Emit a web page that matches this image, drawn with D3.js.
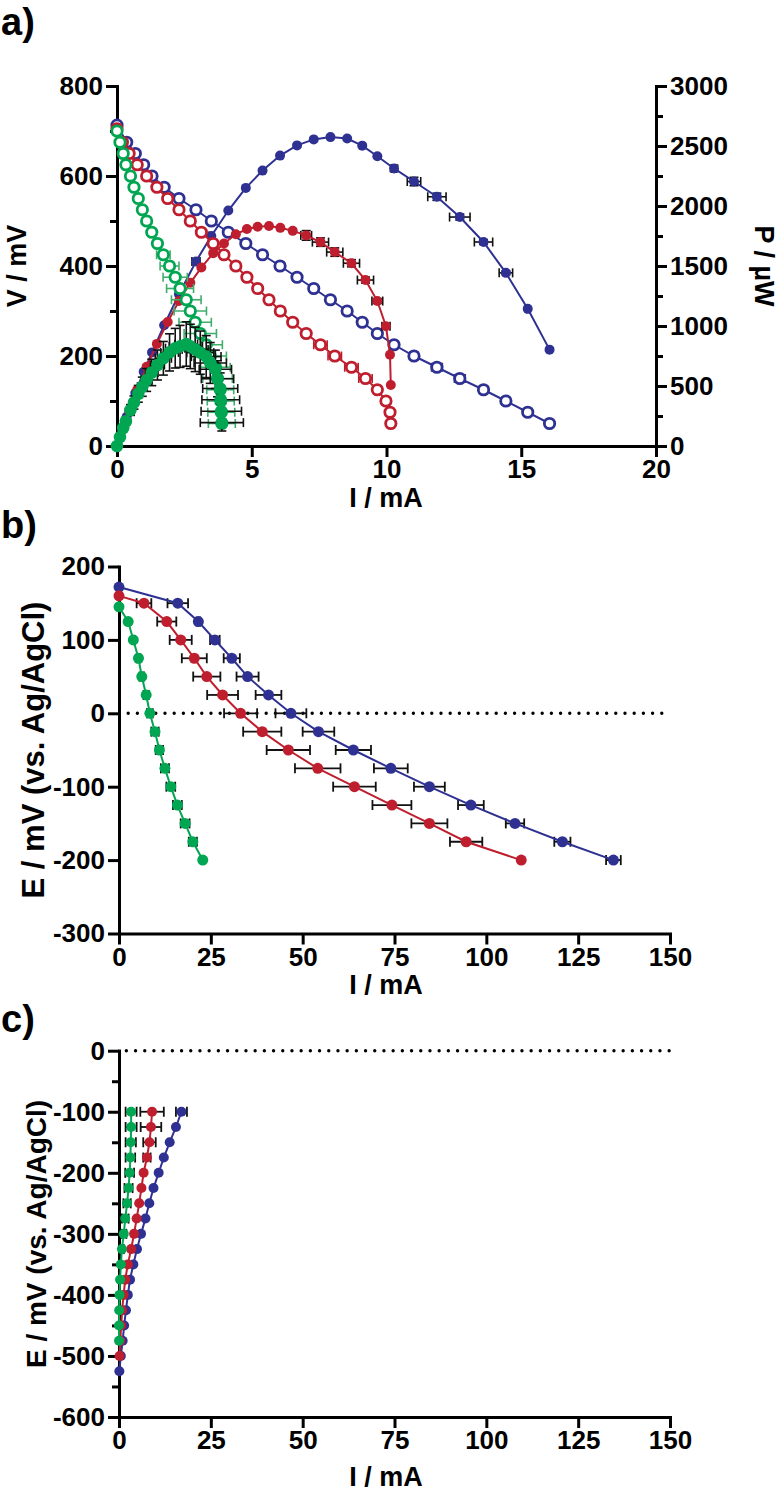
<!DOCTYPE html>
<html><head><meta charset="utf-8">
<script src="https://cdn.jsdelivr.net/npm/d3@7"></script>
<style>
body{margin:0;background:#fff;}
svg text{font-family:"Liberation Sans",Arial,sans-serif;font-weight:bold;fill:#000;}
</style></head><body>
<svg id="chart" width="781" height="1501"></svg>
<script>
// ---------- Panel a: polarisation (V, open) and power (P, filled) ----------
const aBlueI = [0, 0.36, 0.68, 0.99, 1.3, 1.75, 2.3, 2.93, 3.5, 4.13, 4.78, 5.4, 6.05, 6.68, 7.3, 7.92, 8.54, 9.1, 9.66, 10.28, 11.02, 11.87, 12.72, 13.6, 14.43, 15.24, 16.05];
const aBlueV = [713, 675, 650, 625, 600, 575, 550, 525, 500, 475, 450, 425, 400, 375, 350, 325, 300, 275, 250, 225, 200, 175, 150, 125, 100, 75, 50];
const aBlueP = [0, 243, 442, 619, 780, 1006, 1265, 1538, 1750, 1962, 2151, 2295, 2420, 2505, 2555, 2574, 2562, 2503, 2415, 2313, 2204, 2077, 1908, 1700, 1443, 1143, 803];
const aBlueVErr = [0,0,0,0,0,0,0,0,0,0,0,0,0,0,0,0,0,0,0,0.1,0.15,0.2,0.2,0.15,0.1,0,0];
const aBluePXErr = [0,0,0,0,0,0,0,0.15,0.1,0,0,0,0,0,0,0,0,0,0,0.1,0.25,0.34,0.38,0.34,0.25,0.05,0];
const aBluePYErr = [0,0,0,0,0,0,0,0,0,0,0,0,0,0,0,0,0,0,0,25,35,30,25,20,15,0,0];

const aRedI = [0, 0.2, 0.45, 0.75, 1.1, 1.48, 1.88, 2.3, 2.72, 3.13, 3.57, 3.97, 4.41, 4.82, 5.22, 5.64, 6.06, 6.52, 7.02, 7.55, 8.08, 8.7, 9.22, 9.66, 9.98, 10.13, 10.16];
const aRedV = [705, 675, 650, 625, 600, 575, 550, 525, 500, 475, 450, 425, 400, 375, 350, 325, 300, 275, 250, 225, 200, 175, 150, 125, 100, 75, 50];
const aRedP = [0, 135, 293, 469, 660, 851, 1034, 1208, 1360, 1487, 1607, 1687, 1764, 1808, 1827, 1833, 1818, 1793, 1755, 1699, 1616, 1523, 1383, 1208, 998, 760, 508];
const aRedVErr = [0,0,0,0,0,0,0,0,0,0,0,0,0,0,0,0,0,0,0.15,0.25,0.25,0.25,0.25,0,0,0,0];
const aRedPXErr = [0,0,0,0,0,0,0,0,0,0,0,0,0,0,0,0,0,0,0.2,0.3,0.3,0.3,0.3,0.2,0.15,0,0];
const aRedPYErr = [0,0,0,0,0,0,0,0,0,0,0,0,0,0,0,0,0,0,40,35,35,30,25,20,15,0,0];

const aGreenI = [0, 0.11, 0.23, 0.33, 0.5, 0.63, 0.79, 0.94, 1.1, 1.29, 1.5, 1.72, 1.95, 2.16, 2.34, 2.57, 2.72, 2.9, 3.09, 3.31, 3.46, 3.65, 3.73, 3.83, 3.85, 3.87, 3.89];
const aGreenV = [700, 675, 650, 625, 600, 575, 550, 525, 500, 475, 450, 425, 400, 375, 350, 325, 300, 275, 250, 225, 200, 175, 150, 125, 100, 75, 50];
const aGreenP = [0, 74, 150, 206, 300, 362, 435, 494, 550, 613, 675, 731, 780, 815, 830, 850, 830, 805, 778, 745, 692, 639, 560, 479, 385, 290, 195];
const aGreenVErr = [0,0,0,0,0,0,0,0,0.05,0.1,0.15,0.25,0.35,0.45,0.5,0.55,0.6,0.6,0.6,0.6,0.6,0.55,0.55,0.5,0.5,0.5,0.5];
const aGreenPXErr = [0,0.03,0.05,0.08,0.1,0.12,0.15,0.18,0.2,0.23,0.26,0.3,0.33,0.36,0.4,0.42,0.45,0.48,0.5,0.55,0.6,0.6,0.6,0.65,0.7,0.75,0.8];
const aGreenPYErr = [0,10,20,30,45,55,70,80,95,110,125,140,155,165,175,185,185,185,180,175,170,160,150,130,110,90,70];

const aXTicks = [0, 5, 10, 15, 20];
const aVTicks = [0, 200, 400, 600, 800];
const aVMinor = [100, 300, 500, 700];
const aPTicks = [0, 500, 1000, 1500, 2000, 2500, 3000];
const aPMinor = [250, 750, 1250, 1750, 2250, 2750];

// ---------- Panel b: E vs I ----------
const bBlueE = [172, 150, 125, 100, 75, 50, 25, 0, -25, -50, -75, -100, -125, -150, -175, -200];
const bBlueI = [0, 16, 21.6, 26.1, 30.7, 35.0, 40.7, 46.8, 54.3, 63.8, 74.0, 84.5, 95.8, 107.8, 120.7, 134.6];
const bBlueErr = [0, 2.8, 0.5, 1.3, 2.2, 3.0, 3.5, 4.2, 4.3, 4.8, 4.6, 4.2, 3.5, 2.5, 2.2, 2.0];
const bRedE = [160, 150, 125, 100, 75, 50, 25, 0, -25, -50, -75, -100, -125, -150, -175, -200];
const bRedI = [0, 6.8, 13.0, 16.8, 20.5, 23.9, 28.2, 33.1, 39.0, 46.1, 54.1, 64.1, 74.3, 84.5, 94.5, 109.5];
const bRedErr = [0, 2.0, 2.6, 3.0, 3.4, 3.7, 4.2, 4.5, 5.2, 5.9, 6.2, 5.8, 5.3, 4.9, 4.4, 0];
const bGreenE = [145, 125, 100, 75, 50, 25, 0, -25, -50, -75, -100, -125, -150, -175, -200];
const bGreenI = [0, 2.5, 3.9, 5.3, 6.2, 7.4, 8.4, 9.8, 11.0, 12.5, 14.1, 15.9, 18.0, 20.1, 22.8];
const bGreenErr = [0, 0, 0.4, 0.5, 0.6, 0.7, 0.8, 1.0, 1.0, 1.1, 1.2, 1.2, 1.2, 1.1, 0];
const bXTicks = [0, 25, 50, 75, 100, 125, 150];
const bYTicks = [200, 100, 0, -100, -200, -300];

// ---------- Panel c: E vs I (cathodic) ----------
const cBlueE = [-100, -125, -150, -175, -200, -225, -250, -275, -300, -325, -350, -375, -400, -425, -450, -475, -500, -525];
const cBlueI = [17.0, 15.5, 13.8, 12.2, 10.8, 9.4, 8.25, 7.2, 6.0, 4.9, 3.9, 3.0, 2.4, 1.9, 1.4, 1.0, 0.5, 0.1];
const cBlueErr = [1.5, 0, 0, 0, 0, 0, 0, 0, 0, 0, 0, 0, 0, 0, 0, 0, 0, 0];
const cRedE = [-100, -125, -150, -175, -200, -225, -250, -275, -300, -325, -350, -375, -400, -425, -450, -475, -500];
const cRedI = [9.0, 8.7, 8.3, 7.6, 6.7, 6.1, 5.5, 4.8, 4.1, 3.3, 2.4, 1.7, 1.26, 0.85, 0.6, 0.35, 0.15];
const cRedErr = [3.2, 2.8, 1.7, 1.0, 0, 0, 0, 0, 0, 0, 0, 0, 0, 0, 0, 0, 0];
const cGreenE = [-100, -125, -150, -175, -200, -225, -250, -275, -300, -325, -350, -375, -400, -425, -450, -475];
const cGreenI = [3.3, 3.3, 3.2, 3.1, 2.9, 2.6, 2.2, 1.7, 1.3, 0.8, 0.5, 0.3, 0.15, 0.05, 0, 0];
const cGreenErr = [1.5, 1.5, 1.4, 1.3, 1.2, 1.1, 1.0, 0.9, 0.7, 0.5, 0, 0, 0, 0, 0, 0];
const cXTicks = [0, 25, 50, 75, 100, 125, 150];
const cYTicks = [0, -100, -200, -300, -400, -500, -600];
const cYMinor = [-50, -150, -250, -350, -450, -550];

// ---------- styling ----------
const BLUE = "#2E3192", RED = "#BE1E2D", GREEN = "#00A651", GREEN_BAR = "#3FAE6B";
const TICK_FONT = 26, TITLE_FONT = 27, PANEL_FONT = 38;
const svg = d3.select("#chart");

function styleAxis(g) {
  g.select(".domain").attr("stroke", "#000").attr("stroke-width", 3).attr("stroke-linecap", "square");
  g.selectAll(".tick line").attr("stroke", "#000").attr("stroke-width", 3);
  g.selectAll(".tick text").attr("font-size", TICK_FONT).attr("fill", "#000");
}
function addAxis(axisFn, scale, major, minor, transform, sizeMajor, sizeMinor) {
  if (minor) {
    const gm = svg.append("g").attr("transform", transform)
      .call(axisFn(scale).tickValues(minor).tickFormat("").tickSize(sizeMinor).tickSizeOuter(0));
    styleAxis(gm);
  }
  const g = svg.append("g").attr("transform", transform)
    .call(axisFn(scale).tickValues(major).tickFormat(d => String(d)).tickSize(sizeMajor).tickPadding(3).tickSizeOuter(0));
  styleAxis(g);
  return g;
}
function pts(xs, ys) { return xs.map((x, i) => ({x, y: ys[i], i})); }

function errorBars(g, data, xS, yS, xe, ye, color, cap, sw) {
  const gg = g.append("g").attr("stroke", color).attr("stroke-width", sw).attr("fill", "none");
  data.forEach(d => {
    const ex = xe ? xe[d.i] : 0, ey = ye ? ye[d.i] : 0;
    const cx = xS(d.x), cy = yS(d.y);
    if (ex > 0) {
      const x0 = xS(d.x - ex), x1 = xS(d.x + ex);
      gg.append("line").attr("x1", x0).attr("x2", x1).attr("y1", cy).attr("y2", cy);
      gg.append("line").attr("x1", x0).attr("x2", x0).attr("y1", cy - cap / 2).attr("y2", cy + cap / 2);
      gg.append("line").attr("x1", x1).attr("x2", x1).attr("y1", cy - cap / 2).attr("y2", cy + cap / 2);
    }
    if (ey > 0) {
      const y0 = yS(d.y - ey), y1 = yS(d.y + ey);
      gg.append("line").attr("x1", cx).attr("x2", cx).attr("y1", y0).attr("y2", y1);
      gg.append("line").attr("x1", cx - cap / 2).attr("x2", cx + cap / 2).attr("y1", y0).attr("y2", y0);
      gg.append("line").attr("x1", cx - cap / 2).attr("x2", cx + cap / 2).attr("y1", y1).attr("y2", y1);
    }
  });
}
function lineAndPoints(g, data, xS, yS, color, r, open, lw) {
  g.append("path").datum(data)
    .attr("d", d3.line().x(d => xS(d.x)).y(d => yS(d.y)))
    .attr("fill", "none").attr("stroke", color).attr("stroke-width", lw);
  g.append("g").selectAll("circle").data(data).join("circle")
    .attr("cx", d => xS(d.x)).attr("cy", d => yS(d.y)).attr("r", r)
    .attr("fill", open ? "#fff" : color)
    .attr("stroke", color).attr("stroke-width", open ? 2.8 : 0);
}

// ================= Panel a =================
const xA = d3.scaleLinear().domain([0, 20]).range([117, 656]);
const yV = d3.scaleLinear().domain([0, 800]).range([446, 86]);
const yP = d3.scaleLinear().domain([0, 3000]).range([446, 86]);
addAxis(d3.axisLeft, yV, aVTicks, aVMinor, "translate(117,0)", 11, 7);
addAxis(d3.axisRight, yP, aPTicks, aPMinor, "translate(656,0)", 11, 7);
addAxis(d3.axisBottom, xA, aXTicks, null, "translate(0,446)", 11, 7);

const gA = svg.append("g");
[
  {I: aBlueI, V: aBlueV, P: aBlueP, ve: aBlueVErr, px: aBluePXErr, py: aBluePYErr, c: BLUE, bar: BLUE, rf: 5},
  {I: aRedI, V: aRedV, P: aRedP, ve: aRedVErr, px: aRedPXErr, py: aRedPYErr, c: RED, bar: RED, rf: 5},
  {I: aGreenI, V: aGreenV, P: aGreenP, ve: aGreenVErr, px: aGreenPXErr, py: aGreenPYErr, c: GREEN, bar: GREEN_BAR, rf: 6.3}
].forEach(s => {
  const dv = pts(s.I, s.V), dp = pts(s.I, s.P);
  errorBars(gA, dv, xA, yV, s.ve, null, s.bar, 9, 1.6);
  lineAndPoints(gA, dv, xA, yV, s.c, 5.2, true, 2);
  errorBars(gA, dp, xA, yP, s.px, s.py, "#111", 9, 1.6);
  lineAndPoints(gA, dp, xA, yP, s.c, s.rf, false, 2);
});

// titles a
svg.append("text").attr("x", 1).attr("y", 35).attr("font-size", PANEL_FONT).text("a)");
svg.append("text").attr("transform", "translate(26,266) rotate(-90)").attr("text-anchor", "middle").attr("font-size", TITLE_FONT).text("V / mV");
svg.append("text").attr("transform", "translate(755,266) rotate(90)").attr("text-anchor", "middle").attr("font-size", TITLE_FONT).text("P / µW");
svg.append("text").attr("x", 386).attr("y", 507).attr("text-anchor", "middle").attr("font-size", TITLE_FONT).text("I / mA");

// ================= Panel b =================
const xB = d3.scaleLinear().domain([0, 150]).range([119, 670]);
const yB = d3.scaleLinear().domain([-300, 200]).range([933.5, 566.5]);
addAxis(d3.axisLeft, yB, bYTicks, null, "translate(119,0)", 11, 7);
addAxis(d3.axisBottom, xB, bXTicks, null, "translate(0,933.5)", 11, 7);
svg.append("line").attr("x1", xB(2.5)).attr("x2", xB(150)).attr("y1", yB(0)).attr("y2", yB(0))
  .attr("stroke", "#000").attr("stroke-width", 3.4).attr("stroke-linecap", "round").attr("stroke-dasharray", "0,9.2");
const gB = svg.append("g");
[
  {I: bBlueI, E: bBlueE, e: bBlueErr, c: BLUE},
  {I: bRedI, E: bRedE, e: bRedErr, c: RED},
  {I: bGreenI, E: bGreenE, e: bGreenErr, c: GREEN}
].forEach(s => {
  const d = pts(s.I, s.E);
  errorBars(gB, d, xB, yB, s.e, null, "#111", 10, 1.8);
  lineAndPoints(gB, d, xB, yB, s.c, 5.5, false, 2);
});
svg.append("text").attr("x", 1).attr("y", 538).attr("font-size", PANEL_FONT).text("b)");
svg.append("text").attr("transform", "translate(44,750) rotate(-90)").attr("text-anchor", "middle").attr("font-size", 31).text("E / mV (vs. Ag/AgCl)");
svg.append("text").attr("x", 386).attr("y", 994).attr("text-anchor", "middle").attr("font-size", TITLE_FONT).text("I / mA");

// ================= Panel c =================
const xC = d3.scaleLinear().domain([0, 150]).range([119, 670]);
const yC = d3.scaleLinear().domain([-600, 0]).range([1417, 1050.7]);
addAxis(d3.axisLeft, yC, cYTicks, cYMinor, "translate(119,0)", 11, 7);
addAxis(d3.axisBottom, xC, cXTicks, null, "translate(0,1417)", 11, 7);
svg.append("line").attr("x1", xC(2)).attr("x2", xC(150)).attr("y1", yC(0)).attr("y2", yC(0))
  .attr("stroke", "#000").attr("stroke-width", 3.4).attr("stroke-linecap", "round").attr("stroke-dasharray", "0,9.2");
const gC = svg.append("g");
[
  {I: cBlueI, E: cBlueE, e: cBlueErr, c: BLUE},
  {I: cRedI, E: cRedE, e: cRedErr, c: RED},
  {I: cGreenI, E: cGreenE, e: cGreenErr, c: GREEN}
].forEach(s => {
  const d = pts(s.I, s.E);
  errorBars(gC, d, xC, yC, s.e, null, "#111", 10, 1.8);
  lineAndPoints(gC, d, xC, yC, s.c, 5, false, 2);
});
svg.append("text").attr("x", 1).attr("y", 1032).attr("font-size", PANEL_FONT).text("c)");
svg.append("text").attr("transform", "translate(46,1234) rotate(-90)").attr("text-anchor", "middle").attr("font-size", 28).text("E / mV (vs. Ag/AgCl)");
svg.append("text").attr("x", 386).attr("y", 1486).attr("text-anchor", "middle").attr("font-size", TITLE_FONT).text("I / mA");
</script>
</body></html>
